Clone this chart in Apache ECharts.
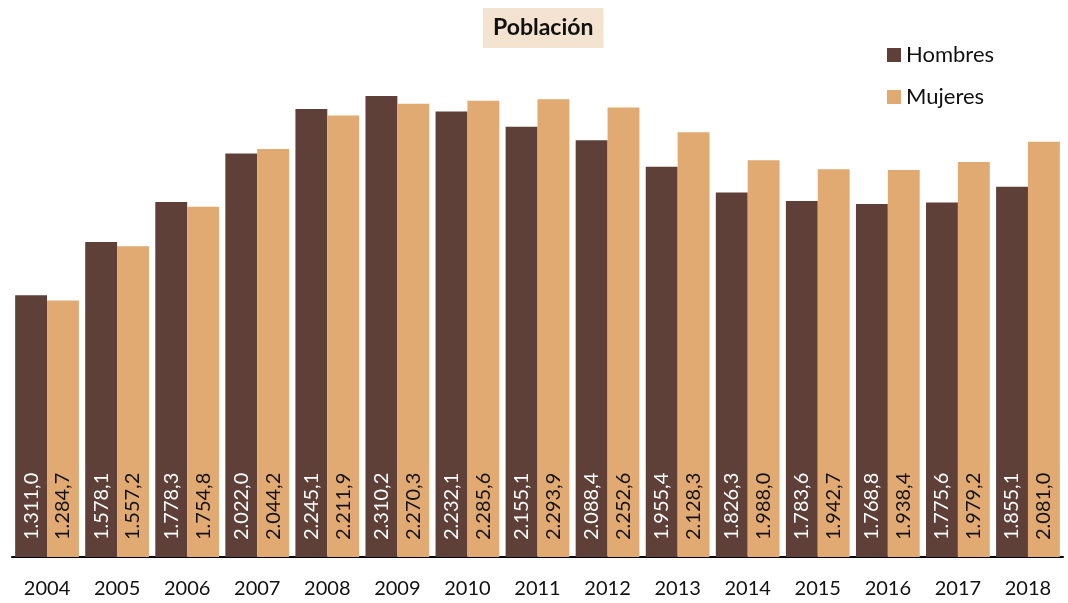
<!DOCTYPE html>
<html><head><meta charset="utf-8">
<script src="https://cdn.jsdelivr.net/npm/echarts@6/dist/echarts.min.js"></script>
<style>html,body{margin:0;padding:0;background:#fff}#c{width:1068px;height:603px}</style>
</head><body><div id="c"></div>
<script>
const years = ['2004','2005','2006','2007','2008','2009','2010','2011','2012','2013','2014','2015','2016','2017','2018'];
const hombres = [1311.0,1578.1,1778.3,2022.0,2245.1,2310.2,2232.1,2155.1,2088.4,1955.4,1826.3,1783.6,1768.8,1775.6,1855.1];
const mujeres = [1284.7,1557.2,1754.8,2044.2,2211.9,2270.3,2285.6,2293.9,2252.6,2128.3,1988.0,1942.7,1938.4,1979.2,2081.0];
const FONT = 'Lato, "Open Sans", sans-serif';
function fmt(v){
  const s = v.toFixed(1).split('.');
  return s[0].replace(/\B(?=(\d{3})+(?!\d))/g,'.') + ',' + s[1];
}
const chart = echarts.init(document.getElementById('c'));
function lbl(color){
  return {show:true, position:'insideBottom', rotate:90, align:'left', verticalAlign:'middle',
    distance:17, color:color, fontFamily:FONT, fontSize:20,
    formatter:p=>fmt(p.value)};
}
chart.setOption({
  animation:false,
  title:{text:'Población', left:483, top:8, padding:[8,10,8,10], backgroundColor:'#F5E3D2',
    textStyle:{fontFamily:FONT, fontWeight:'bold', fontSize:23, lineHeight:24, color:'#111'}},
  legend:{orient:'vertical', left:887, top:44, padding:0, itemWidth:14, itemHeight:14, itemGap:20,
    icon:'rect', textStyle:{fontFamily:FONT, fontSize:22, color:'#111'}},
  grid:{left:12, right:5, top:58, bottom:46},
  xAxis:{type:'category', data:years,
    axisLine:{lineStyle:{color:'#000', width:2}}, axisTick:{show:false},
    axisLabel:{fontFamily:FONT, fontSize:20, color:'#111', margin:22}},
  yAxis:{type:'value', min:0, max:2500, show:false, splitLine:{show:false}},
  series:[
    {name:'Hombres', type:'bar', data:hombres, barGap:'0%', barCategoryGap:'9%',
     itemStyle:{color:'#5F4038'}, label:lbl('#fff')},
    {name:'Mujeres', type:'bar', data:mujeres,
     itemStyle:{color:'#E1AA72'}, label:lbl('#111')}
  ]
});
</script></body></html>
